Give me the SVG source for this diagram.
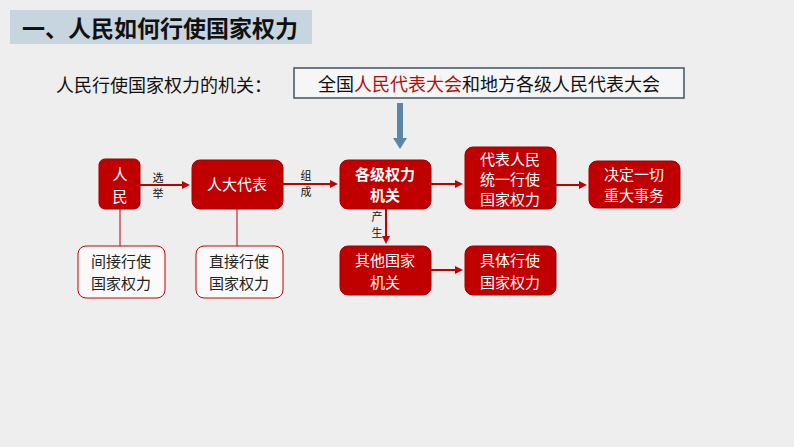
<svg xmlns="http://www.w3.org/2000/svg" width="794" height="447" viewBox="0 0 794 447">
<style>
text{font-family:"Noto Sans CJK SC","Noto Sans",sans-serif}
.b{fill:#c00000;stroke:#a00000;stroke-width:1}
.bt{fill:#fff;font-size:15px;text-anchor:middle}
.o{fill:#fafafa;stroke:#c00000;stroke-width:1}
.ot{fill:#222;font-size:15px;text-anchor:middle}
.l{stroke:#c00000;stroke-width:2;fill:none}
.s{font-size:11px;fill:#111;text-anchor:middle}
</style>
<defs><marker id="a" markerWidth="8" markerHeight="8" refX="6" refY="4" orient="auto" markerUnits="userSpaceOnUse"><path d="M0,0L8,4L0,8z" fill="#c00000"/></marker></defs>
<rect width="794" height="447" fill="#eeeeee"/>
<rect x="10" y="10" width="302" height="34" fill="#c7d5df"/>
<text x="22" y="37" font-size="23" font-weight="bold" fill="#111">一、人民如何行使国家权力</text>
<text x="56" y="92" font-size="18" fill="#111">人民行使国家权力的机关：</text>
<g id="top"><rect x="294" y="68" width="390" height="30" fill="#f6f6f6" stroke="#3f5563" stroke-width="1.5"/>
<text x="489" y="91" font-size="18" text-anchor="middle" fill="#111">全国<tspan fill="#b01010">人民代表大会</tspan>和地方各级人民代表大会</text></g>
<g id="connectors">
<rect x="397" y="103" width="6" height="36" fill="#5b86a8"/><path d="M393,138L407,138L400,149z" fill="#5b86a8"/>
<path class="l" d="M140,185H188" marker-end="url(#a)"/>
<path class="l" d="M283,184H336" marker-end="url(#a)"/>
<path class="l" d="M431,184H461" marker-end="url(#a)"/>
<path class="l" d="M556,185H585" marker-end="url(#a)"/>
<path class="l" d="M386,209V242" marker-end="url(#a)"/>
<path class="l" d="M431,270H461" marker-end="url(#a)"/>
<path d="M120,209V246M237,209V246" stroke="#c00000" stroke-width="1"/>
<text class="s" x="158" y="182">选</text><text class="s" x="158" y="198">举</text>
<text class="s" x="306" y="180">组</text><text class="s" x="306" y="196">成</text>
<text class="s" x="377" y="221">产</text><text class="s" x="377" y="237">生</text>
</g>
<g id="n1"><rect class="b" x="99" y="159" width="41" height="50" rx="6"/><text class="bt" x="120" y="180" font-size="16">人</text><text class="bt" x="120" y="202" font-size="16">民</text></g>
<g id="n2"><rect class="b" x="192" y="160" width="91" height="49" rx="8"/><text class="bt" x="237" y="190" font-size="16">人大代表</text></g>
<g id="n3"><rect class="b" x="340" y="160" width="91" height="49" rx="8"/><text class="bt" x="385" y="180" font-weight="bold">各级权力</text><text class="bt" x="385" y="201" font-weight="bold">机关</text></g>
<g id="n4"><rect class="b" x="465" y="147" width="91" height="62" rx="8"/><text class="bt" x="510" y="165">代表人民</text><text class="bt" x="510" y="185">统一行使</text><text class="bt" x="510" y="205">国家权力</text></g>
<g id="n5"><rect class="b" x="589" y="161" width="91" height="47" rx="8"/><text class="bt" x="634" y="180">决定一切</text><text class="bt" x="634" y="201">重大事务</text></g>
<g id="n6"><rect class="b" x="340" y="246" width="91" height="49" rx="8"/><text class="bt" x="385" y="266">其他国家</text><text class="bt" x="385" y="288">机关</text></g>
<g id="n7"><rect class="b" x="465" y="246" width="91" height="49" rx="8"/><text class="bt" x="510" y="266">具体行使</text><text class="bt" x="510" y="288">国家权力</text></g>
<g id="n8"><rect class="o" x="78" y="246" width="87" height="52" rx="8"/><text class="ot" x="121" y="267">间接行使</text><text class="ot" x="121" y="289">国家权力</text></g>
<g id="n9"><rect class="o" x="196" y="246" width="87" height="52" rx="8"/><text class="ot" x="239" y="267">直接行使</text><text class="ot" x="239" y="289">国家权力</text></g>
</svg>
